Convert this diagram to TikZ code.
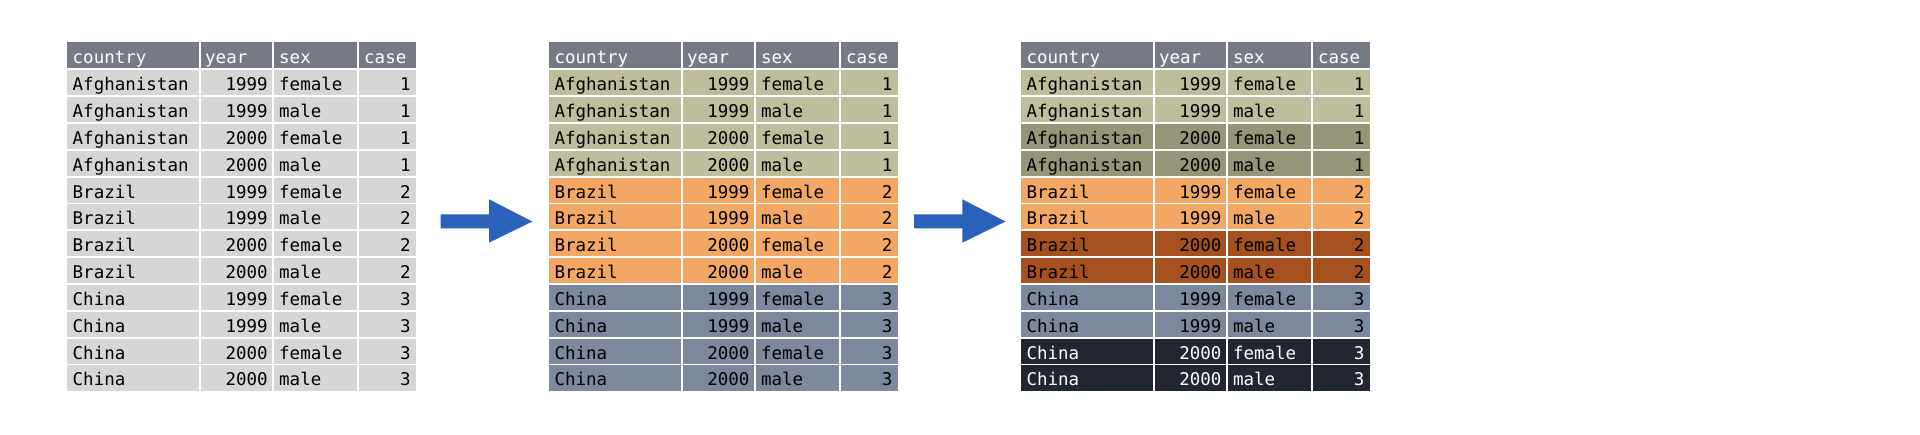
\documentclass[tikz,border=0pt]{standalone}
\usepackage{fontspec}
\newfontfamily\monofont{DejaVu Sans Mono}
\definecolor{hdr}{HTML}{767A83}
\definecolor{cellgray}{HTML}{D6D6D6}
\definecolor{olive}{HTML}{BFBE9C}
\definecolor{olivedk}{HTML}{979577}
\definecolor{orng}{HTML}{F2A764}
\definecolor{brwn}{HTML}{A5511F}
\definecolor{slate}{HTML}{7D889E}
\definecolor{navy}{HTML}{22262F}
\definecolor{arrowblue}{HTML}{2B62B9}
\def\tabtop{42.5}
\def\rh{26.83}
\def\tabw{349.5}
\def\colB{133.5}
\def\colC{206.5}
\def\colD{291.5}
\def\datalist{1/Afghanistan/1999/female/1/olive/olive/black,
2/Afghanistan/1999/male/1/olive/olive/black,
3/Afghanistan/2000/female/1/olive/olivedk/black,
4/Afghanistan/2000/male/1/olive/olivedk/black,
5/Brazil/1999/female/2/orng/orng/black,
6/Brazil/1999/male/2/orng/orng/black,
7/Brazil/2000/female/2/orng/brwn/black,
8/Brazil/2000/male/2/orng/brwn/black,
9/China/1999/female/3/slate/slate/black,
10/China/1999/male/3/slate/slate/black,
11/China/2000/female/3/slate/navy/white,
12/China/2000/male/3/slate/navy/white}
% #1 id, #2 x0, #3 row, #4 fill, #5 text colour, #6-#9 cells
\newcommand\tabrow[9]{%
  \fill[#4] (#2,\tabtop+#3*\rh) rectangle ++(\tabw,\rh);
  \node[txt,text=#5,anchor=base west] (#1r#3c1) at (#2+6,\tabtop+#3*\rh+21.5) {#6};
  \node[txt,text=#5,anchor=base east] (#1r#3c2) at (#2+\colC-5.5,\tabtop+#3*\rh+21.5) {#7};
  \node[txt,text=#5,anchor=base west] (#1r#3c3) at (#2+\colC+6,\tabtop+#3*\rh+21.5) {#8};
  \node[txt,text=#5,anchor=base east] (#1r#3c4) at (#2+\tabw-5.5,\tabtop+#3*\rh+21.5) {#9};
}
\newcommand\tabhead[2]{%
  \fill[hdr] (#2,\tabtop) rectangle ++(\tabw,\rh);
  \node[txt,text=white,anchor=base west] (#1h1) at (#2+6,\tabtop+21) {country};
  \node[txt,text=white,anchor=base west] (#1h2) at (#2+\colB+5,\tabtop+21) {year};
  \node[txt,text=white,anchor=base west] (#1h3) at (#2+\colC+6,\tabtop+21) {sex};
  \node[txt,text=white,anchor=base west] (#1h4) at (#2+\colD+6,\tabtop+21) {case};
}
\newcommand\tabgrid[1]{%
  \foreach \k in {1,...,12} {\draw[gridline] (#1,\tabtop+\k*\rh) -- ++(\tabw,0);}
  \foreach \c in {\colB,\colC,\colD} {\draw[gridline] (#1+\c,\tabtop) -- ++(0,13*\rh);}
}
\begin{document}
\begin{tikzpicture}[x=1pt,y=-1pt,
  txt/.style={font=\monofont\fontsize{17.5}{20}\selectfont,inner sep=0pt,outer sep=0pt},
  gridline/.style={draw=white,line width=1.8pt}]
\useasboundingbox (0,0) rectangle (1920,435);
\fill[white] (0,0) rectangle (1920,435);
% table 1
\tabhead{a}{66.7}
\foreach \r/\cn/\yr/\sx/\cs/\fb/\fc/\tc in \datalist {\tabrow{a}{66.7}{\r}{cellgray}{black}{\cn}{\yr}{\sx}{\cs}}
\tabgrid{66.7}
% table 2
\tabhead{b}{548.5}
\foreach \r/\cn/\yr/\sx/\cs/\fb/\fc/\tc in \datalist {\tabrow{b}{548.5}{\r}{\fb}{black}{\cn}{\yr}{\sx}{\cs}}
\tabgrid{548.5}
% table 3
\tabhead{c}{1020.5}
\foreach \r/\cn/\yr/\sx/\cs/\fb/\fc/\tc in \datalist {\tabrow{c}{1020.5}{\r}{\fc}{\tc}{\cn}{\yr}{\sx}{\cs}}
\tabgrid{1020.5}
% arrows
\fill[arrowblue] (440.7,214.3) -- (489,214.3) -- (489,199.3) -- (532.3,221.5) -- (489,242.7) -- (489,228.3) -- (440.7,228.3) -- cycle;
\fill[arrowblue] (914,214.3) -- (962.3,214.3) -- (962.3,199.3) -- (1005.6,221.5) -- (962.3,242.7) -- (962.3,228.3) -- (914,228.3) -- cycle;
\end{tikzpicture}
\end{document}
